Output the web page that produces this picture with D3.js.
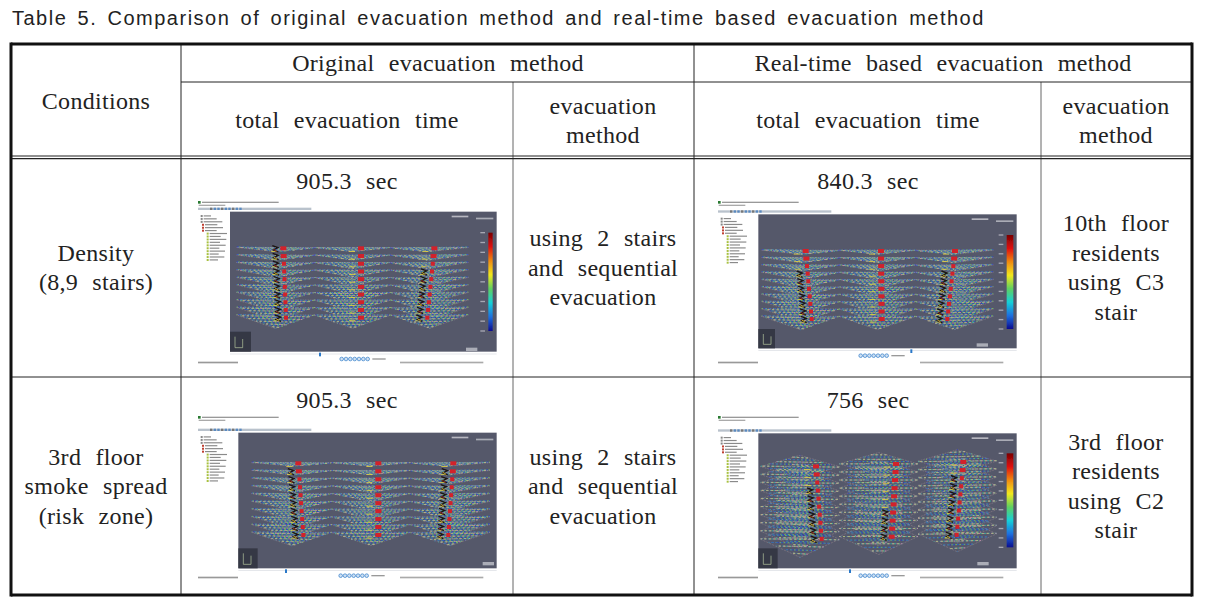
<!DOCTYPE html>
<html>
<head>
<meta charset="utf-8">
<script src="https://d3js.org/d3.v7.min.js"></script>
<style>
  html, body { margin: 0; padding: 0; background: #fff; overflow: hidden; }
  svg { display: block; }
  .serif { font-family: "Liberation Serif", serif; font-size: 24px; fill: #222; text-anchor: middle; word-spacing: 8px; letter-spacing: 0.3px; }
  .title { font-family: "Liberation Sans", sans-serif; font-size: 20px; fill: #222; word-spacing: 3.2px; letter-spacing: 1.5px; }
</style>
</head>
<body>
<svg id="chart" width="1212" height="597"></svg>
<script>
const titleText = "Table 5. Comparison of original evacuation method and real-time based evacuation method";
const groupHeaders = ["Original evacuation method", "Real-time based evacuation method"];
const subHeaders = ["total evacuation time", "evacuation\nmethod"];
const conditions = ["Density\n(8,9 stairs)", "3rd floor\nsmoke spread\n(risk zone)"];
const originalTimes = ["905.3 sec", "905.3 sec"];
const realTimes = ["840.3 sec", "756 sec"];
const originalMethods = ["using 2 stairs\nand sequential\nevacuation", "using 2 stairs\nand sequential\nevacuation"];
const realMethods = ["10th floor\nresidents\nusing C3\nstair", "3rd floor\nresidents\nusing C2\nstair"];

const floorCount = 10;
const meshColors = ["#3a34b0", "#2fb0a4", "#6fbc58", "#c47ea4", "#2c5cc0", "#a8b878"];
const colorbarStops = ["#7a0000", "#e01010", "#f08a10", "#f2e81c", "#5fd060", "#16d0d8", "#1c70e0", "#0c0c90"];

const svg = d3.select("#chart");

// Table grid
const colX = [11, 181, 513, 694, 1041, 1192];
const rowY = [44, 82, 157, 377, 595];

function rule(x1, y1, x2, y2, w, c) {
    svg.append("line").attr("x1", x1).attr("y1", y1).attr("x2", x2).attr("y2", y2)
       .attr("stroke", c || "#222").attr("stroke-width", w || 1);
}

function multiLine(text, cx, cy) {
    const parts = text.split("\n");
    parts.forEach((p, i) => {
        svg.append("text").attr("class", "serif")
           .attr("x", cx)
           .attr("y", cy + (i - (parts.length - 1) / 2) * 29.5)
           .attr("dy", "0.3em")
           .text(p);
    });
}

svg.append("text").attr("class", "title").attr("x", 12).attr("y", 25).text(titleText);

// Screenshot panels, sketched in a 3x working grid
const panels = [
    { ox: 190, oy: 195, view: [120, 50, 920, 470], floors: [160, 368], xs: [140, 835], top: [280, 513, 733], bot: [288, 513, 712], bar: [895, 113, 908, 408], depth: [12, 40], skew: 0, crowd: [0, 2], crowdFrom: [0, 3], clock: [828, 458], axis: [120, 410, 183, 470], slider: 390, btn: 455, diamond: false },
    { ox: 710, oy: 195, view: [145, 58, 920, 460], floors: [168, 372], xs: [155, 850], top: [287, 513, 735], bot: [305, 515, 712], bar: [890, 120, 910, 402], depth: [12, 40], skew: 0, crowd: [0, 2], crowdFrom: [3, 3], clock: [800, 445], axis: [145, 402, 195, 460], slider: 604, btn: 452, diamond: false },
    { ox: 190, oy: 410, view: [145, 68, 920, 475], floors: [160, 375], xs: [185, 900], top: [325, 565, 790], bot: [340, 565, 775], bar: null, depth: [10, 40], skew: 0, crowd: [0, 2], crowdFrom: [1, 1], clock: [878, 456], axis: [145, 415, 203, 475], slider: 288, btn: 452, diamond: false },
    { ox: 710, oy: 410, view: [145, 70, 920, 475], floors: [174, 392], xs: [152, 860], top: [318, 558, 760], bot: [335, 545, 740], bar: [890, 130, 910, 412], depth: [34, 54], skew: 0.035, crowd: [0, 1, 2], crowdFrom: [3, 6, 2], clock: [802, 456], axis: [145, 415, 203, 475], slider: 420, btn: 452, diamond: true }
];

const defs = svg.append("defs");
defs.append("filter").attr("id", "soft").attr("x", 0).attr("y", 0).attr("width", 1).attr("height", 1)
    .append("feGaussianBlur").attr("stdDeviation", 0.4);
const grad = defs.append("linearGradient").attr("id", "cbar").attr("x1", 0).attr("y1", 0).attr("x2", 0).attr("y2", 1);
colorbarStops.forEach((c, i) => grad.append("stop").attr("offset", i / (colorbarStops.length - 1)).attr("stop-color", c));

const pathLine = d3.line();

function drawPanel(p) {
    const g = svg.append("g").attr("transform", `translate(${p.ox},${p.oy}) scale(${1 / 3})`).attr("filter", "url(#soft)");
    const [vx0, vy0, vx1, vy1] = p.view;

    g.append("rect").attr("x", 21).attr("y", 15).attr("width", vx1 - 21).attr("height", 495).attr("fill", "#fff");

    // title bar, menu and toolbar
    g.append("rect").attr("x", 24).attr("y", 18).attr("width", 8).attr("height", 8).attr("fill", "#2a7a30");
    g.append("rect").attr("x", 36).attr("y", 20).attr("width", 230).attr("height", 4).attr("fill", "#999");
    g.append("rect").attr("x", 26).attr("y", 29).attr("width", 80).attr("height", 4).attr("fill", "#aaa");
    g.append("rect").attr("x", 24).attr("y", vy0 - 12).attr("width", 340).attr("height", 7).attr("fill", "#b9c2cc");
    d3.range(9).forEach(i => g.append("rect").attr("x", 60 + i * 11).attr("y", vy0 - 12).attr("width", 7).attr("height", 7)
        .attr("fill", i % 3 ? "#5a8ac0" : "#777"));

    // tree in the sidebar
    d3.range(16).forEach(i => {
        const indent = i < 3 ? 8 : (i < 6 ? 12 : 26);
        const y = vy0 + 10 + i * 8.8;
        g.append("rect").attr("x", 24 + indent).attr("y", y).attr("width", 6).attr("height", 6)
         .attr("fill", i > 5 ? "#a8c040" : (i > 2 ? "#c04030" : "#888"));
        g.append("rect").attr("x", 33 + indent).attr("y", y + 1).attr("width", 22 + (i * 17) % 36).attr("height", 3.5).attr("fill", "#8a8a8a");
    });

    // viewport
    g.append("rect").attr("x", vx0).attr("y", vy0).attr("width", vx1 - vx0).attr("height", vy1 - vy0).attr("fill", "#55586b");
    g.append("rect").attr("x", p.axis[0]).attr("y", p.axis[1]).attr("width", p.axis[2] - p.axis[0]).attr("height", p.axis[3] - p.axis[1]).attr("fill", "#363945");
    g.append("path").attr("d", pathLine([[p.axis[0] + 15, p.axis[1] + 15], [p.axis[0] + 15, p.axis[3] - 12], [p.axis[0] + 38, p.axis[3] - 12], [p.axis[0] + 38, p.axis[1] + 22]]))
     .attr("fill", "none").attr("stroke", "#b8c8a0").attr("stroke-width", 2);
    g.append("rect").attr("x", vx1 - 135).attr("y", vy0 + 12).attr("width", 50).attr("height", 5).attr("fill", "#cfd0d6").attr("opacity", 0.8);
    g.append("rect").attr("x", vx1 - 62).attr("y", vy0 + 18).attr("width", 52).attr("height", 5).attr("fill", "#cfd0d6").attr("opacity", 0.7);
    g.append("rect").attr("x", p.clock[0]).attr("y", p.clock[1]).attr("width", 34).attr("height", 10).attr("fill", "#c8c9d0").attr("opacity", 0.75);

    // bottom slider, buttons and status
    g.append("rect").attr("x", vx0).attr("y", vy1 + 6).attr("width", vx1 - vx0).attr("height", 2).attr("fill", "#d8dce2");
    g.append("rect").attr("x", p.slider - 3).attr("y", vy1 + 3).attr("width", 6).attr("height", 11).attr("fill", "#2a78c8");
    d3.range(7).forEach(i => g.append("circle").attr("cx", p.btn + i * 13).attr("cy", vy1 + 22).attr("r", 5.5)
        .attr("fill", "#cfe0f2").attr("stroke", "#2a78c8").attr("stroke-width", 2));
    g.append("rect").attr("x", p.btn + 92).attr("y", vy1 + 20).attr("width", 40).attr("height", 4).attr("fill", "#999");
    g.append("rect").attr("x", 24).attr("y", 500).attr("width", 120).attr("height", 5).attr("fill", "#999");
    g.append("rect").attr("x", 630).attr("y", 500).attr("width", 250).attr("height", 5).attr("fill", "#aaa");

    // floor meshes: flat views have a straight back edge and a V front, the turned view shows diamonds
    const fy = d3.scaleLinear().domain([0, floorCount - 1]).range(p.floors);
    const fd = d3.scaleLinear().domain([0, floorCount - 1]).range(p.depth);
    const wing = (p.xs[1] - p.xs[0]) / 3;
    const fractions = d3.range(0, 1.01, 0.1);
    d3.range(floorCount).forEach(f => {
        const y = fy(f), d = fd(f);
        const yBack = p.diamond ? y - d : y - 0.2 * d;
        const yFront = p.diamond ? y + d : y + d * 0.8;
        d3.range(3).forEach(w => {
            const x0 = p.xs[0] + w * wing, mid = x0 + wing / 2, x1 = x0 + wing;
            const lift = (mid - p.xs[0]) * p.skew;
            fractions.forEach((t, k) => {
                const yy = yBack + t * (yFront - yBack) - lift;
                const inset = (p.diamond ? Math.abs(2 * t - 1) : t) * wing * 0.5;
                meshColors.forEach((c, m) => {
                    if ((m + k) % 2) return;
                    g.append("path").attr("d", pathLine([[x0 + inset, yy + (w - 1) * 1.5], [x1 - inset, yy - (w - 1) * 1.5]]))
                     .attr("fill", "none").attr("stroke", c).attr("stroke-width", 2.8)
                     .attr("stroke-dasharray", "6 " + (4 + m)).attr("stroke-dashoffset", m * 3 + f + k * 2);
                });
            });
            const outline = p.diamond
                ? [[x0, y - lift], [mid, yBack - lift], [x1, y - lift], [mid, yFront - lift], [x0, y - lift]]
                : [[x0, yBack], [x1, yBack], [mid, yFront], [x0, yBack]];
            g.append("path").attr("d", pathLine(outline))
             .attr("fill", "none").attr("stroke", "#d8b0a8").attr("stroke-width", 1.6).attr("stroke-dasharray", "2 3").attr("opacity", 0.8);
        });
    });

    // stairs: red landings and crowds of people
    d3.range(3).forEach(s => {
        const sx = d3.scaleLinear().domain([0, floorCount - 1]).range([p.top[s], p.bot[s]]);
        d3.range(floorCount).forEach(f => {
            const lift = (sx(f) - p.xs[0]) * p.skew * 0.85;
            const y = fy(f) - lift;
            const wide = s === 1 || f < 2;
            g.append("rect").attr("x", sx(f) - (wide ? 9 : 6)).attr("y", y - 6).attr("width", wide ? 18 : 12).attr("height", 12).attr("fill", "#d2202c");
            g.append("rect").attr("x", sx(f) - 36).attr("y", y + 8).attr("width", 18).attr("height", 2.5).attr("fill", "#e0d040");
            const ci = p.crowd.indexOf(s);
            if (ci >= 0 && f >= p.crowdFrom[ci]) {
                const cx = sx(f) - 24;
                g.append("path").attr("d", pathLine([[cx - 9, y - 8], [cx + 8, y - 2], [cx - 6, y + 5], [cx + 9, y + 11]]))
                 .attr("fill", "none").attr("stroke", "#1c1412").attr("stroke-width", 4);
                g.append("path").attr("d", pathLine([[cx - 6, y + 3], [cx + 4, y + 9]]))
                 .attr("fill", "none").attr("stroke", f % 2 ? "#e8c030" : "#b03020").attr("stroke-width", 2.5);
            }
        });
    });

    // colour bar
    if (p.bar) {
        const [bx0, by0, bx1, by1] = p.bar;
        g.append("rect").attr("x", bx0).attr("y", by0).attr("width", bx1 - bx0).attr("height", by1 - by0).attr("fill", "url(#cbar)");
        const barScale = d3.scaleLinear().domain([0, 10]).range([by0, by1]);
        d3.range(11).forEach(t => g.append("rect").attr("x", bx0 - 24).attr("y", barScale(t) - 2).attr("width", 14).attr("height", 4).attr("fill", "#c8c9d0").attr("opacity", 0.7));
    }
}

panels.forEach(drawPanel);

// Rules on top of everything
rule(colX[1], rowY[0], colX[1], rowY[4]);
rule(colX[3], rowY[0], colX[3], rowY[4]);
rule(colX[2], rowY[1], colX[2], rowY[4], 1, "#666");
rule(colX[4], rowY[1], colX[4], rowY[4], 1, "#666");
rule(colX[1], rowY[1], colX[5], rowY[1]);
rule(colX[0], 156, colX[5], 156, 1.2);
rule(colX[0], 158.7, colX[5], 158.7, 1.2);
rule(colX[0], rowY[3], colX[5], rowY[3]);
rule(colX[0], rowY[0], colX[5], rowY[0], 3, "#111");
rule(colX[0], rowY[4], colX[5], rowY[4], 3, "#111");
rule(colX[0], rowY[0] - 1.5, colX[0], rowY[4] + 1.5, 3, "#111");
rule(colX[5], rowY[0] - 1.5, colX[5], rowY[4] + 1.5, 3, "#111");

// Cell texts
const colCx = [96, 347, 603, 868, 1116];
const rowCy = [268.5, 487];
const timeY = [182, 401];

multiLine("Conditions", colCx[0], 102);
multiLine(groupHeaders[0], 438, 64);
multiLine(groupHeaders[1], 943, 64);
multiLine(subHeaders[0], colCx[1], 121);
multiLine(subHeaders[1], colCx[2], 121.5);
multiLine(subHeaders[0], colCx[3], 121);
multiLine(subHeaders[1], colCx[4], 121.5);

conditions.forEach((c, i) => {
    multiLine(c, colCx[0], rowCy[i]);
    multiLine(originalTimes[i], colCx[1], timeY[i]);
    multiLine(originalMethods[i], colCx[2], rowCy[i]);
    multiLine(realTimes[i], colCx[3], timeY[i]);
    multiLine(realMethods[i], colCx[4], rowCy[i]);
});
</script>
</body>
</html>
